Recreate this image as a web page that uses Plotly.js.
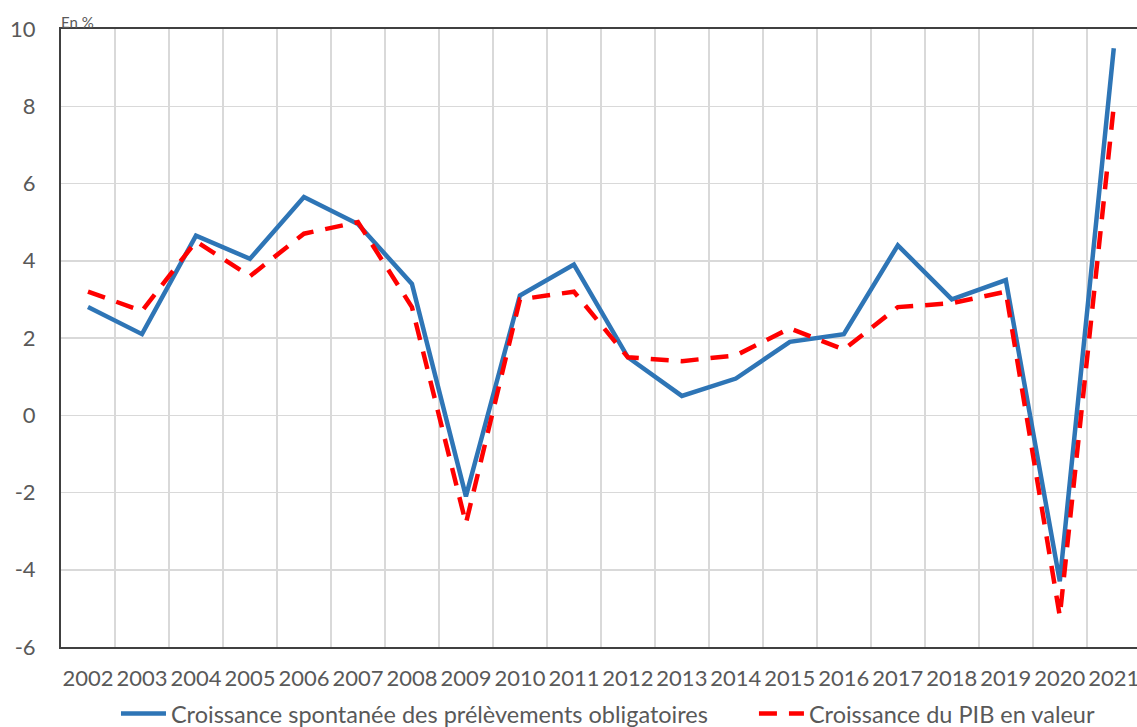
<!DOCTYPE html>
<html>
<head>
<meta charset="utf-8">
<script src="https://cdn.plot.ly/plotly-3.0.1.min.js"></script>
<style>html,body{margin:0;padding:0;background:#fff;}#chart{width:1137px;height:727px;}</style>
</head>
<body>
<div id="chart"></div>
<script>
const years = ["2002","2003","2004","2005","2006","2007","2008","2009","2010","2011","2012","2013","2014","2015","2016","2017","2018","2019","2020","2021"];
const croissancePO = [2.8, 2.1, 4.65, 4.05, 5.65, 4.95, 3.4, -2.1, 3.1, 3.9, 1.5, 0.5, 0.95, 1.9, 2.1, 4.4, 3.0, 3.5, -4.3, 9.5];
const croissancePIB = [3.2, 2.7, 4.5, 3.6, 4.7, 5.0, 2.8, -2.8, 3.0, 3.2, 1.5, 1.4, 1.55, 2.25, 1.7, 2.8, 2.9, 3.2, -5.2, 8.0];
const yTicks = [-6, -4, -2, 0, 2, 4, 6, 8, 10];
const yTickText = ["-6", "-4", "-2", "0", "2", "4", "6", "8", "10"];
const nameA = "Croissance spontanée des prélèvements obligatoires";
const nameB = "Croissance du PIB en valeur";

const font = "Lato, 'Open Sans', sans-serif";
const traces = [
  {x: years, y: croissancePO, type: "scatter", mode: "lines", name: nameA, legend: "legend",
   line: {color: "#2E75B6", width: 4.5}},
  {x: years, y: croissancePIB, type: "scatter", mode: "lines", name: nameB, legend: "legend2",
   line: {color: "#FF0000", width: 4.5, dash: "18px,12px"}}
];
const legendCommon = {orientation: "h", xanchor: "left", y: -0.108, yanchor: "middle",
  itemwidth: 45, bgcolor: "rgba(0,0,0,0)", font: {size: 23.5, color: "#595959"}};
const layout = {
  width: 1137, height: 727,
  margin: {l: 61, r: 0, t: 29, b: 80, autoexpand: false},
  paper_bgcolor: "#fff", plot_bgcolor: "#fff",
  font: {family: font, color: "#595959", size: 21},
  showlegend: true,
  legend: Object.assign({}, legendCommon, {x: 0.0511}),
  legend2: Object.assign({}, legendCommon, {x: 0.644}),
  xaxis: {type: "category", range: [-0.5, 19.43], tickson: "boundaries", tickangle: 0,
          showgrid: true, gridcolor: "#d9d9d9", gridwidth: 1.5,
          showline: true, linecolor: "#404040", linewidth: 2, mirror: true,
          ticks: "", ticklabelstandoff: 11, tickfont: {size: 22, color: "#595959"}},
  yaxis: {range: [-6, 10], tickvals: yTicks, ticktext: yTickText,
          showgrid: true, gridcolor: "#d9d9d9", gridwidth: 1.5,
          zeroline: false, showline: true, linecolor: "#404040", linewidth: 2,
          ticks: "", ticklabelstandoff: 19, tickfont: {size: 22, color: "#595959"}},
  annotations: [{xref: "paper", yref: "paper", x: 0, y: 1, xanchor: "left", yanchor: "bottom",
                 text: "En %", showarrow: false, font: {size: 15, color: "#595959"}, yshift: -4, xshift: -2}]
};
Plotly.newPlot("chart", traces, layout, {displayModeBar: false, staticPlot: true});
</script>
</body>
</html>
